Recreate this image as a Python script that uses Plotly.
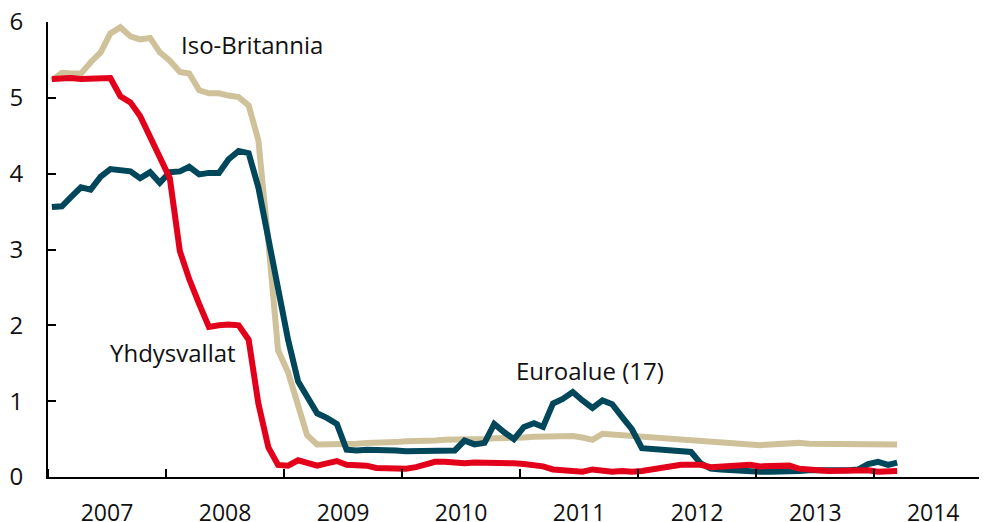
import pandas as pd
import plotly.graph_objects as go

# Monthly data, Jan 2007 - Mar 2014 (%)
months = pd.date_range("2007-01-01", periods=87, freq="MS") + pd.Timedelta(days=12)

uk = [5.23, 5.33, 5.32, 5.32, 5.47, 5.60, 5.85, 5.93, 5.81, 5.77, 5.79, 5.60,
      5.49, 5.34, 5.32, 5.10, 5.06, 5.06, 5.03, 5.01, 4.90, 4.44, 3.10, 1.67,
      1.38, 0.97, 0.55, 0.43, 0.43, 0.44, 0.44, 0.44, 0.45, 0.45, 0.46, 0.46,
      0.47, 0.47, 0.48, 0.48, 0.49, 0.49, 0.50, 0.50, 0.50, 0.51, 0.51, 0.52,
      0.52, 0.53, 0.53, 0.54, 0.54, 0.54, 0.52, 0.49, 0.57, 0.56, 0.55, 0.54,
      0.53, 0.52, 0.51, 0.50, 0.50, 0.49, 0.48, 0.46, 0.45, 0.44, 0.44, 0.43,
      0.42, 0.43, 0.44, 0.45, 0.45, 0.44, 0.44, 0.44, 0.44, 0.44, 0.44, 0.44,
      0.43, 0.43, 0.43]

euro = [3.56, 3.57, 3.69, 3.82, 3.79, 3.96, 4.06, 4.05, 4.03, 3.94, 4.02, 3.88,
        4.02, 4.03, 4.09, 3.99, 4.01, 4.01, 4.19, 4.30, 4.27, 3.82, 3.15, 2.49,
        1.81, 1.26, 1.06, 0.84, 0.78, 0.70, 0.36, 0.35, 0.36, 0.36, 0.36, 0.35,
        0.34, 0.34, 0.35, 0.35, 0.34, 0.35, 0.48, 0.43, 0.45, 0.70, 0.59, 0.50,
        0.66, 0.71, 0.66, 0.97, 1.03, 1.12, 1.01, 0.91, 1.01, 0.96, 0.79, 0.63,
        0.38, 0.37, 0.36, 0.35, 0.34, 0.33, 0.18, 0.11, 0.10, 0.09, 0.08, 0.07,
        0.07, 0.07, 0.07, 0.08, 0.08, 0.09, 0.09, 0.08, 0.08, 0.09, 0.10, 0.17,
        0.20, 0.16, 0.19]

us = [5.25, 5.26, 5.26, 5.25, 5.25, 5.25, 5.26, 5.02, 4.94, 4.76, 4.49, 4.24,
      3.94, 2.98, 2.61, 2.28, 1.98, 2.00, 2.01, 2.00, 1.81, 0.97, 0.39, 0.16,
      0.15, 0.22, 0.18, 0.15, 0.18, 0.21, 0.16, 0.16, 0.15, 0.12, 0.12, 0.12,
      0.11, 0.13, 0.16, 0.20, 0.20, 0.18, 0.18, 0.19, 0.19, 0.19, 0.19, 0.18,
      0.17, 0.16, 0.14, 0.10, 0.09, 0.09, 0.07, 0.10, 0.08, 0.07, 0.08, 0.07,
      0.08, 0.10, 0.13, 0.14, 0.16, 0.16, 0.16, 0.13, 0.14, 0.16, 0.16, 0.16,
      0.14, 0.15, 0.14, 0.15, 0.11, 0.09, 0.09, 0.08, 0.08, 0.09, 0.08, 0.09,
      0.07, 0.07, 0.08]

series_names = ["Iso-Britannia", "Euroalue (17)", "Yhdysvallat"]
colors = ["#CFC199", "#00475C", "#E2001A"]
y_ticks = [0, 1, 2, 3, 4, 5, 6]

FONT = "Open Sans"

fig = go.Figure()
for name, vals, col in zip(series_names, [uk, euro, us], colors):
    fig.add_trace(go.Scatter(x=months, y=vals, mode="lines", name=name,
                             line=dict(color=col, width=6), showlegend=False))

fig.update_layout(
    width=979, height=514,
    margin=dict(l=40, r=0, t=14, b=45, pad=0),
    paper_bgcolor="white", plot_bgcolor="white",
    font=dict(family=FONT, size=23, color="#111111"),
    xaxis=dict(
        type="date",
        range=["2007-01-01", "2014-12-16"],
        tick0="2007-01-01", dtick="M12",
        ticklabelmode="period", tickformat="%Y",
        ticks="inside", ticklen=8, tickwidth=2, tickcolor="black",
        showline=True, linecolor="black", linewidth=2,
        showgrid=False, zeroline=False, automargin=False,
        ticklabelstandoff=14, ticklabeloverflow="allow",
        tickfont=dict(family=FONT, size=23),
    ),
    yaxis=dict(
        range=[0, 6], tickvals=y_ticks,
        ticks="inside", ticklen=8, tickwidth=2, tickcolor="black",
        showline=True, linecolor="black", linewidth=2,
        showgrid=False, zeroline=False, automargin=False,
        ticklabelstandoff=18, ticklabeloverflow="allow",
        tickfont=dict(family=FONT, size=24),
    ),
)

ann = [
    ("Iso-Britannia", 0.1390, 0.951),
    ("Yhdysvallat", 0.064, 0.274),
    ("Euroalue (17)", 0.4960, 0.233),
]
for txt, ax, ay in ann:
    fig.add_annotation(text=txt, x=ax, y=ay, xref="paper", yref="paper",
                       xanchor="left", yanchor="middle", showarrow=False,
                       font=dict(family=FONT, size=24, color="#111111"))

fig.write_html("out.html")
